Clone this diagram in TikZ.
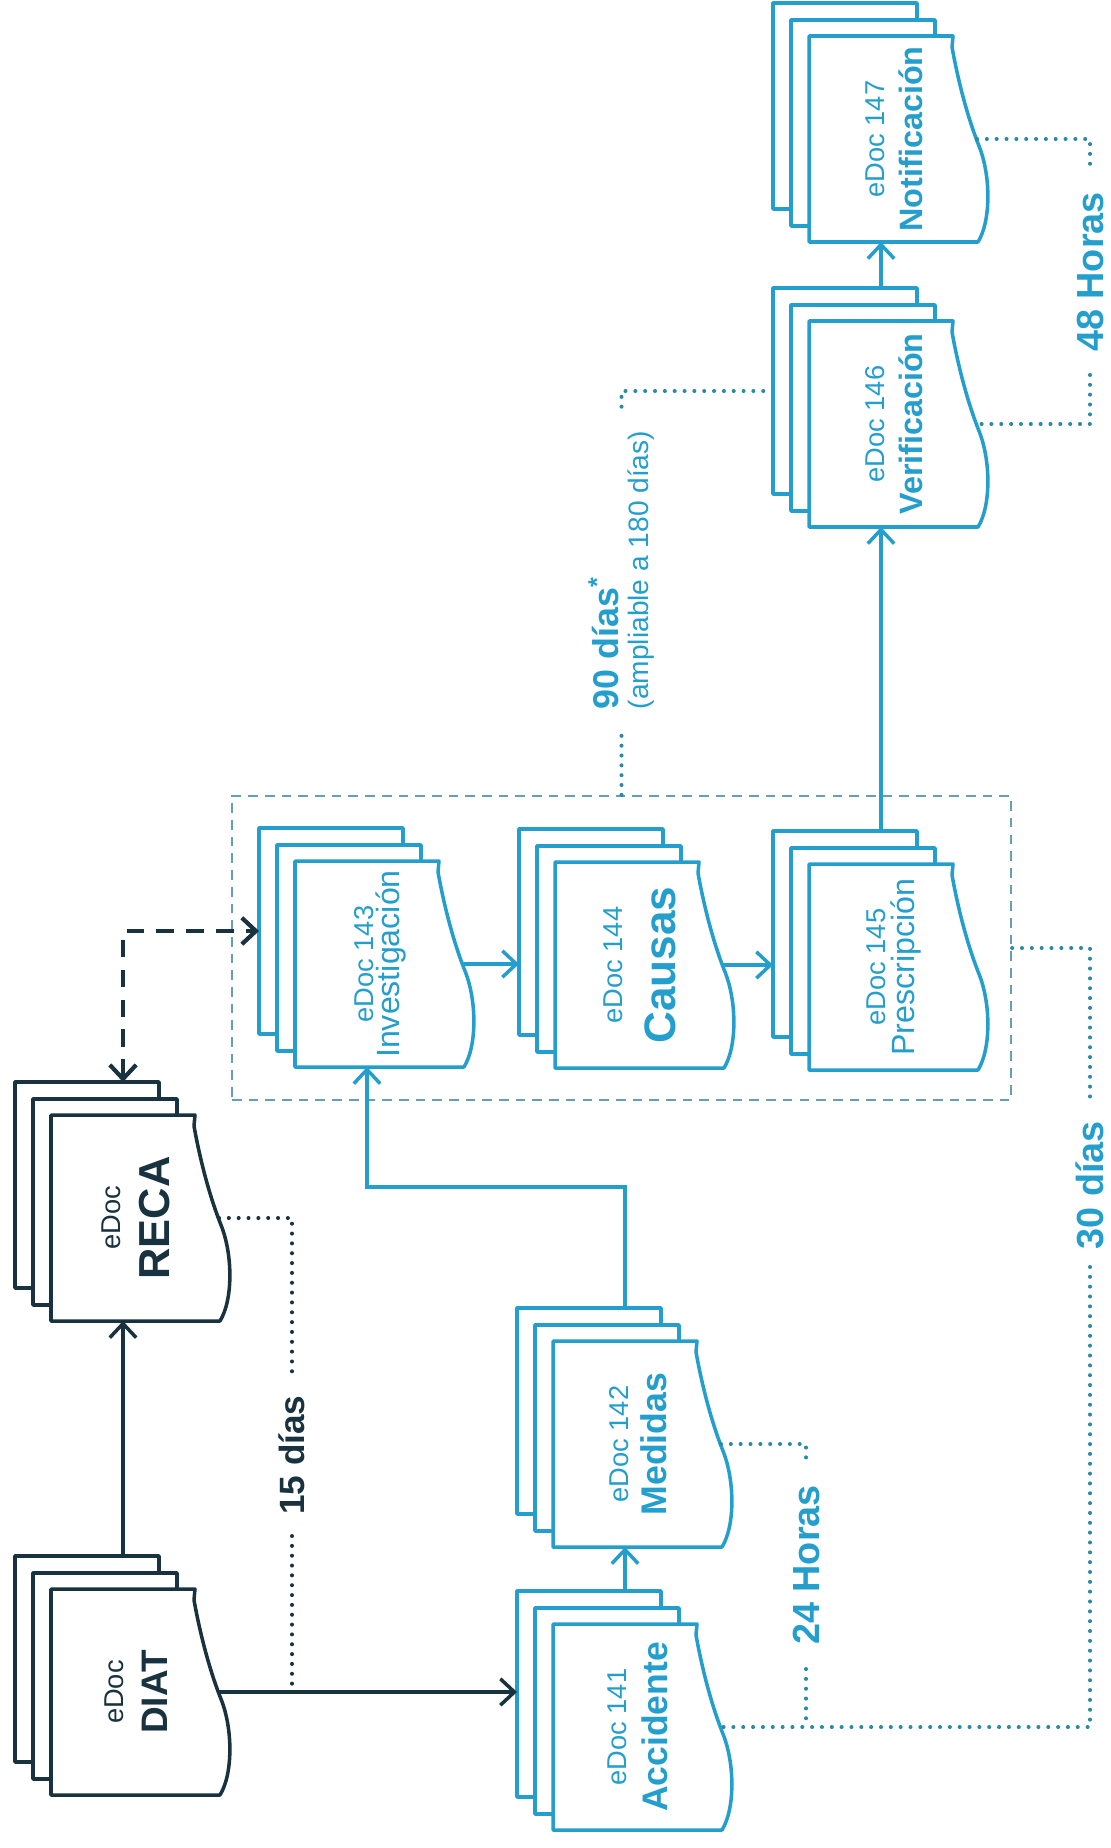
\documentclass[tikz,border=0pt]{standalone}
\usepackage{fontspec}
\setmainfont{Liberation Sans}
\usetikzlibrary{arrows.meta, fit}

\definecolor{edocblue}{RGB}{36,158,204}
\definecolor{edocnavy}{RGB}{24,50,64}
\definecolor{waitteal}{RGB}{40,138,165}
\definecolor{boxteal}{RGB}{100,160,180}

\tikzset{
    >={Straight Barb[length=8pt, width=15pt]},
    sheet/.style={line width=2pt, fill=white, line join=round},
    flow/.style={line width=2pt, ->},
    twoway/.style={line width=2.4pt, dash pattern=on 10pt off 7pt, <->},
    espera/.style={draw=waitteal, line width=2.3pt, line cap=round, dash pattern=on 0pt off 5.6pt},
    grpbox/.style={draw=boxteal, line width=1.3pt, dash pattern=on 5.5pt off 4pt, inner sep=0pt},
    plazo/.style={rotate=90, text=edocblue, font=\bfseries\fontsize{21.5}{21.5}\selectfont, inner ysep=3pt},
    pics/edoc/.style n args={4}{code={
        \path[sheet, draw=#1] (-108,-136) rectangle (36,70);
        \path[sheet, draw=#1] (-90,-119) rectangle (54,87);
        \path[sheet, draw=#1] (-72,-103) -- (72,-103) -- (71,-92)
            .. controls (78,-53) and (88,-18) .. (98,7)
            .. controls (110,37) and (110,82) .. (97,103) -- (-72,103) -- cycle;
        \node[rotate=90, text=#1, align=center, inner sep=0pt,
              font=\fontsize{15.5}{#4}\selectfont] (-label) at (13,0) {#2\\{#3}};
        \coordinate (-top) at (0,-136);
        \coordinate (-bottom) at (0,103);
        \coordinate (-west) at (-108,-33);
        \coordinate (-wave) at (96,0);
    }}
}

\begin{document}
\begin{tikzpicture}[x=0.02cm, y=-0.02cm]
    \useasboundingbox (0,0) rectangle (1110,1848);

    % investigation group
    \coordinate (grp-nw) at (232,796);
    \coordinate (grp-se) at (1011,1100);
    \node[grpbox, fit=(grp-nw)(grp-se)] (grp) {};

    \pic (diat) at (123,1692) {edoc={edocnavy}{eDoc}{\bfseries\fontsize{21}{21}\selectfont DIAT}{25}};
    \pic (reca) at (123,1218) {edoc={edocnavy}{eDoc}{\bfseries\fontsize{24.7}{25}\selectfont RECA}{28}};
    \pic (acc) at (625,1727) {edoc={edocblue}{eDoc 141}{\bfseries\fontsize{20.2}{20}\selectfont Accidente}{23}};
    \pic (med) at (625,1444) {edoc={edocblue}{eDoc 142}{\bfseries\fontsize{20.3}{20}\selectfont Medidas}{22}};
    \pic (inv) at (367,964) {edoc={edocblue}{eDoc 143}{\fontsize{18.3}{18}\selectfont Investigación}{15}};
    \pic (causas) at (627,965) {edoc={edocblue}{eDoc 144}{\bfseries\fontsize{25.1}{25}\selectfont Causas}{30}};
    \pic (presc) at (881,967) {edoc={edocblue}{eDoc 145}{\fontsize{18.3}{18}\selectfont Prescripción}{17}};
    \pic (verif) at (881,424) {edoc={edocblue}{eDoc 146}{\bfseries\fontsize{18.4}{18}\selectfont Verificación}{21.6}};
    \pic (notif) at (881,139) {edoc={edocblue}{eDoc 147}{\bfseries\fontsize{18.4}{18}\selectfont Notificación}{21.6}};

    \draw[flow, draw=edocnavy] (diat-top) -- (reca-bottom);
    \draw[flow, draw=edocnavy] (diat-wave) -- (diat-wave -| acc-west);
    \draw[twoway, draw=edocnavy] (reca-top) |- (inv-west);
    \draw[flow, draw=edocblue] (acc-top) -- (med-bottom);
    \draw[flow, draw=edocblue] (med-top) -- ++(0,-121) -| (inv-bottom);
    \draw[flow, draw=edocblue] (inv-wave) -- (inv-wave -| causas-west);
    \draw[flow, draw=edocblue] (causas-wave) -- (causas-wave -| presc-west);
    \draw[flow, draw=edocblue] (presc-top) -- (verif-bottom);
    \draw[flow, draw=edocblue] (verif-top) -- (notif-bottom);

    % deadlines
    \node[plazo, text=edocnavy, font=\bfseries\fontsize{20}{20}\selectfont, inner xsep=12pt] (t15) at (292,1455) {15 días};
    \node[plazo, inner xsep=13.6pt] (t24) at (806,1565) {24 Horas};
    \node[plazo, inner xsep=10pt] (t30) at (1090,1185) {30 días};
    \node[plazo, inner xsep=13pt] (t48) at (1090,272) {48 Horas};
    \node[plazo, align=left, font=\bfseries\fontsize{20.4}{17}\selectfont, inner xsep=13.6pt] (t90) at (621.5,570)
        {90 días\textsuperscript{*}\\{\mdseries\fontsize{16}{16}\selectfont(ampliable a 180 días)}};

    \draw[espera, draw=edocnavy] (reca-wave) -| (t15);
    \draw[espera, draw=edocnavy] (t15) -- (t15 |- diat-wave);
    \draw[espera] (med-wave) -| (t24);
    \draw[espera] (t24) -- (t24 |- acc-wave);
    \draw[espera] (grp.east) -| (t30);
    \draw[espera] (t30) |- (acc-wave);
    \draw[espera] (notif-wave) -| (t48);
    \draw[espera] (t48) |- (verif-wave);
    \draw[espera] (grp.north) -- (t90);
    \draw[espera] (t90) |- (verif-west);

\end{tikzpicture}
\end{document}
